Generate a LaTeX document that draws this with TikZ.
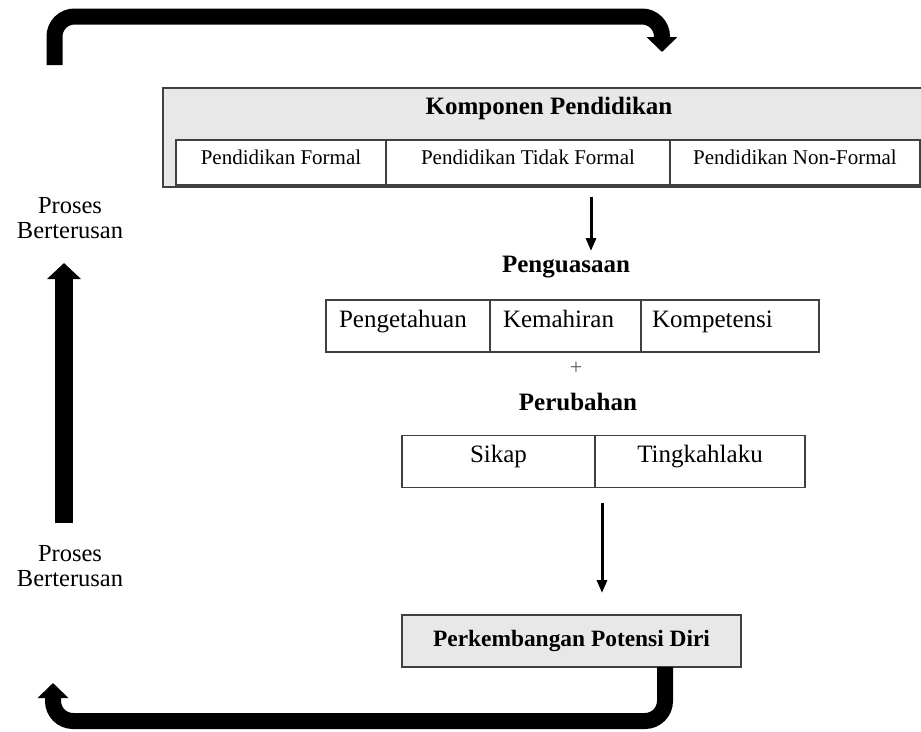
\documentclass[tikz,border=0pt]{standalone}
\usepackage{fontspec}
\setmainfont{Liberation Serif}
\usetikzlibrary{arrows.meta,positioning}

\begin{document}
\begin{tikzpicture}[x=1pt,y=-1pt,
   box/.style={draw=black!75, line width=1.2pt, inner sep=0pt, outer sep=0pt},
   kecil/.style={box, fill=white, minimum height=45pt, font=\fontsize{21}{24}\selectfont, text height=15pt, text depth=12pt},
   besar/.style={box, fill=white, minimum height=52pt, font=\fontsize{25}{28}\selectfont, text height=17pt, text depth=15pt},
   judul/.style={font=\fontsize{25}{28}\selectfont\bfseries},
   proses/.style={align=center, font=\fontsize{24.5}{25.5}\selectfont, inner sep=0pt},
   putar/.style={line width=16pt, rounded corners=20pt, -{Triangle[width=30pt,length=15pt]}},
   panah/.style={line width=3pt, -{Triangle[width=10pt,length=13pt]}}]
\useasboundingbox (0,0) rectangle (921,731);
\clip (0,0) rectangle (921,731);

% komponen
\node[box, fill=black!9, minimum width=762pt, minimum height=99pt] (komponen) at (544,137.5) {};
\node[judul] (judulkomponen) at (549,108) {Komponen Pendidikan};
\node[kecil, minimum width=210pt] (formal) at (281,162.5) {Pendidikan Formal};
\node[kecil, minimum width=284pt, right=0pt of formal] (tidakformal) {Pendidikan Tidak Formal};
\node[kecil, minimum width=250pt, right=0pt of tidakformal] (nonformal) {Pendidikan Non-Formal};

% penguasaan + perubahan
\node[judul] (penguasaan) at (566,267) {Penguasaan};
\node[besar, minimum width=164pt, text width=138pt, align=left] (pengetahuan) at (408,326) {Pengetahuan};
\node[besar, minimum width=151pt, text width=125pt, align=left, right=0pt of pengetahuan] (kemahiran) {Kemahiran};
\node[besar, minimum width=178pt, text width=156pt, align=left, right=0pt of kemahiran] (kompetensi) {Kompetensi};
\node[font=\fontsize{22}{24}\selectfont, text=black!65] (tambah) at (576,368) {+};
\node[judul] (perubahan) at (578,402) {Perubahan};
\node[besar, minimum width=193pt] (sikap) at (498.5,461.5) {Sikap};
\node[besar, minimum width=210pt, right=0pt of sikap] (tingkahlaku) {Tingkahlaku};

\node[box, fill=black!9, minimum width=339pt, minimum height=52pt, font=\fontsize{23.4}{26}\selectfont\bfseries] (potensi) at (571.5,641) {Perkembangan Potensi Diri};

\node[proses] (prosesatas) at (70,218) {Proses\\Berterusan};
\node[proses] (prosesbawah) at (70,566) {Proses\\Berterusan};

% panah
\coordinate (panah1) at (591,251);
\coordinate (panah2) at (602,593);
\draw[panah, shorten <=10pt] (komponen.south -| panah1) -- (panah1);
\draw[panah, shorten <=15pt] (tingkahlaku.south -| panah2) -- (panah2);

\coordinate (kiriatas) at (54.5,65);
\coordinate (kananatas) at (662,52);
\coordinate (kiribawah) at (53,683);
\coordinate (naikbawah) at (64,523);
\coordinate (naikatas) at (64,263);
\draw[putar] (kiriatas) -- ++(0,-48.5) -| (kananatas);
\draw[putar] ([xshift=93.5pt]potensi.south) -- ++(0,54) -| (kiribawah);
\draw[putar, line width=18pt, -{Triangle[width=33pt,length=16pt]}] (naikbawah) -- (naikatas);
\end{tikzpicture}
\end{document}
